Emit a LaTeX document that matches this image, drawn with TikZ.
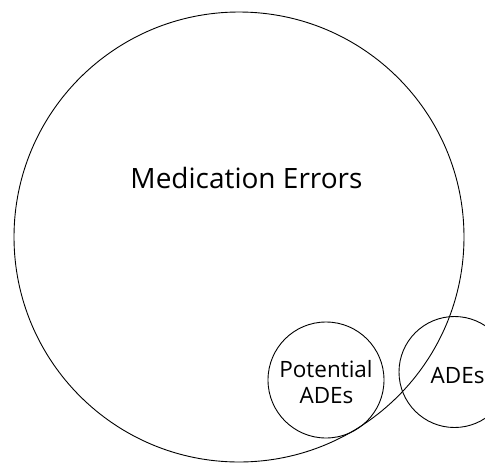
\documentclass[tikz,border=0pt]{standalone}
\usepackage{fontspec}
\setmainfont{Open Sans}
\begin{document}
\begin{tikzpicture}[x=1pt,y=-1pt,
  ring/.style={draw=black,line width=0.9pt,circle,inner sep=0pt},
  big/.style={font=\fontsize{28}{30}\selectfont,inner sep=0pt},
  small/.style={font=\fontsize{22.5}{16}\selectfont,inner sep=0pt}]
\useasboundingbox (0,0) rectangle (485,464);
\clip (0,0) rectangle (485,464);
\node[ring,minimum size=450pt] (me) at (239,237) {};
\node[ring,minimum size=116pt] (pot) at (326,380) {};
\node[ring,minimum size=111pt] (ade) at (454.5,372) {};
\node[big,anchor=base] (metext) at (246.5,188.5) {Medication Errors};
\node[small,anchor=base] (pottext1) at (326,377) {Potential};
\node[small,anchor=base] (pottext2) at (326.5,403) {ADEs};
\node[small,anchor=base west] (adetext) at (430.5,383) {ADEs};
\end{tikzpicture}
\end{document}
